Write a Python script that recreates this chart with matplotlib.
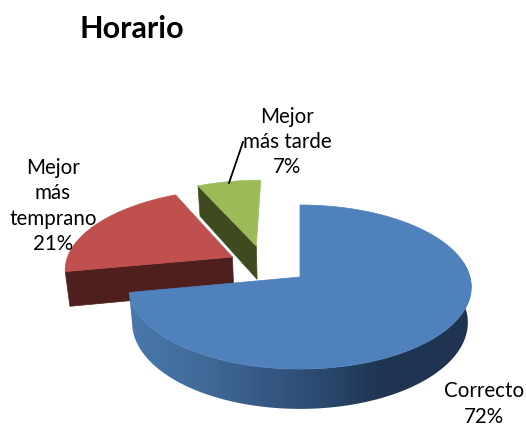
import numpy as np
import matplotlib
matplotlib.use('Agg')
import matplotlib.pyplot as plt
from matplotlib.colors import LinearSegmentedColormap
from matplotlib.patches import Polygon

# values
categories = ['Correcto', 'Mejor más temprano', 'Mejor más tarde']
values = [72, 21, 7]
label_lines = ['Correcto\n72%', 'Mejor\nmás\ntemprano\n21%', 'Mejor\nmás tarde\n7%']

top_colors = ['#4F81BD', '#C0504D', '#9BBB59']
cut_colors = ['#1E3450', '#4F1F1E', '#3F4A1F']
offsets = [(0, 0), (-0.41, 0.255), (-0.27, 0.403)]  # how far each slice is pulled out
label_pos = [(484, 404), (53, 206), (287, 142)]

# fake 3d: perspective projection of the pie plane to pixels
cx, cy = 300, 277
rx, ry = 170, 80.8
k = 0.122
depth = 35
rim_cmap = LinearSegmentedColormap.from_list('rim', ['#4A79AD', '#3F6794', '#2F4F78', '#1E3450', '#1E3450'])


def project(u, v, bottom=False):
    w = 1 + k * v
    x = cx + rx * u / w
    y = cy - ry * v / w
    if bottom:
        x = cx + (x - cx) * 0.98
        y = y + depth / w
    return x, y


def arc(a0, a1, du, dv, bottom=False, n=200):
    t = np.radians(np.linspace(a0, a1, n))
    return project(np.sin(t) + du, np.cos(t) + dv, bottom)


fig = plt.figure(figsize=(5.26, 4.26), dpi=100)
ax = fig.add_axes([0, 0, 1, 1])

ends = np.cumsum(values) / np.sum(values) * 360
starts = ends - np.array(values) / np.sum(values) * 360

# back slices first, the big one goes on top of them
for i in [1, 2, 0]:
    a0, a1 = starts[i], ends[i]
    du, dv = offsets[i]
    x0, y0 = project(du, dv)
    x0b, y0b = project(du, dv, True)

    if i > 0:
        # visible cut face
        xa, ya = arc(a0, a0, du, dv, n=1)
        xb, yb = arc(a0, a0, du, dv, True, n=1)
        ax.fill([x0, xa[0], xb[0], x0b], [y0, ya[0], yb[0], y0b],
                color=cut_colors[i], lw=0.5, zorder=i + 1)
    else:
        # outer rim, horizontal gradient clipped to the rim shape
        xt, yt = arc(max(a0, 80), a1, du, dv)
        xb, yb = arc(max(a0, 80), a1, du, dv, True)
        rim = Polygon(np.c_[np.r_[xt, xb[::-1]], np.r_[yt, yb[::-1]]], closed=True,
                      transform=ax.transData, facecolor='none', edgecolor='none')
        ax.add_patch(rim)
        grad = np.linspace(0, 1, 256).reshape(1, -1)
        img = ax.imshow(grad, cmap=rim_cmap, aspect='auto', zorder=5,
                        extent=[xt.min(), xt.max(), yb.max() + 2, yt.min() - 2])
        img.set_clip_path(rim)

    xs, ys = arc(a0, a1, du, dv)
    ax.fill(np.r_[x0, xs], np.r_[y0, ys], color=top_colors[i], lw=0.5, zorder=6 if i == 0 else i + 2)

# leader line for the green slice
ax.plot([243, 229], [142, 183], color='black', lw=1.3, zorder=8)

for i in range(len(values)):
    ax.text(label_pos[i][0], label_pos[i][1], label_lines[i], ha='center', va='center',
            family='Lato', fontsize=14.8, linespacing=1.32, color='black', zorder=9)

ax.text(79, 29, 'Horario', ha='left', va='center', family='Lato', fontweight='bold',
        fontsize=22, color='black')

ax.set_xlim(0, 526)
ax.set_ylim(426, 0)
ax.axis('off')

fig.savefig('out.png', dpi=100)
